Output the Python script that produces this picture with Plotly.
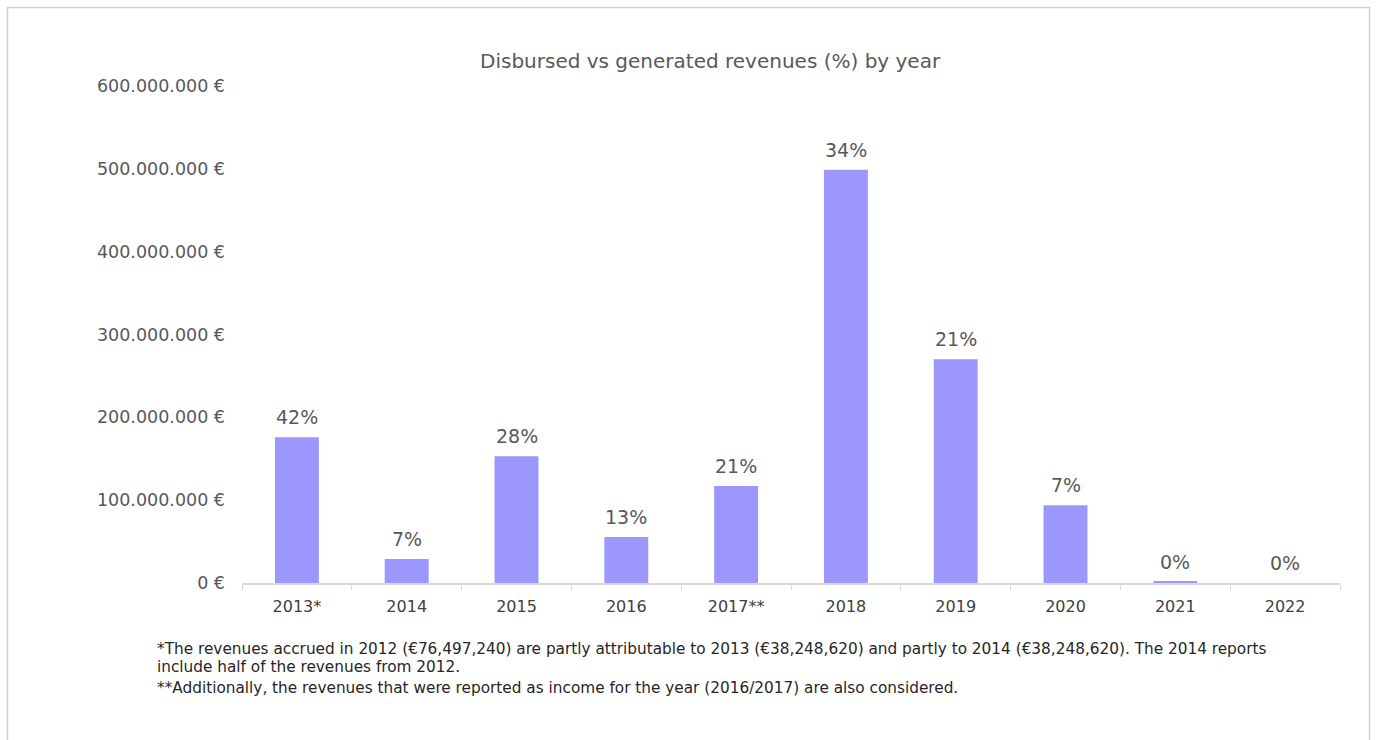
import plotly.graph_objects as go

years = ["2013*", "2014", "2015", "2016", "2017**", "2018", "2019", "2020", "2021", "2022"]
disbursed = [176e6, 29e6, 153e6, 55.5e6, 117e6, 499e6, 270e6, 94e6, 1.5e6, 0]
pct_labels = ["42%", "7%", "28%", "13%", "21%", "34%", "21%", "7%", "0%", "0%"]
ytick_vals = [0, 100e6, 200e6, 300e6, 400e6, 500e6, 600e6]
ytick_text = ["0 €", "100.000.000 €", "200.000.000 €", "300.000.000 €",
              "400.000.000 €", "500.000.000 €", "600.000.000 €"]
title = "Disbursed vs generated revenues (%) by year"
notes = [
    "*The revenues accrued in 2012 (€76,497,240) are partly attributable to 2013 (€38,248,620) and partly to 2014 (€38,248,620). The 2014 reports",
    "include half of the revenues from 2012.",
    "**Additionally, the revenues that were reported as income for the year (2016/2017) are also considered.",
]

W, H = 1376, 740
L, R, T, B = 242, 36, 86, 157
pw, ph = W - L - R, H - T - B
FONT = "DejaVu Sans"

def px(x):
    return (x - L) / pw

def py(y):
    return (H - B - y) / ph

fig = go.Figure(go.Bar(
    x=years, y=disbursed,
    marker=dict(color="#9b97fd", line=dict(width=0)),
    hoverinfo="skip",
))

annotations = [dict(text=title, x=px(710), y=py(61), xref="paper", yref="paper",
                    showarrow=False, font=dict(size=20, color="#595959", family=FONT),
                    xanchor="center", yanchor="middle")]
# category index positions on the category axis
for i, (v, lab) in enumerate(zip(disbursed, pct_labels)):
    annotations.append(dict(text=lab, x=i, y=v, xref="x", yref="y", showarrow=False,
                            yshift=20, yanchor="middle", xanchor="center",
                            font=dict(size=19, color="#595959", family=FONT)))
for t, yy in zip(notes, [649, 667, 688]):
    annotations.append(dict(text=t, x=px(155), y=py(yy), xref="paper", yref="paper",
                            showarrow=False, font=dict(size=15.3, color="#262626", family=FONT),
                            xanchor="left", yanchor="middle", align="left"))

fig.update_layout(
    width=W, height=H, margin=dict(l=L, r=R, t=T, b=B),
    paper_bgcolor="white", plot_bgcolor="white",
    bargap=0.6, showlegend=False,
    font=dict(family=FONT),
    annotations=annotations,
    shapes=[dict(type="rect", xref="paper", yref="paper",
                 x0=px(7.5), x1=px(1369.5), y0=py(745), y1=py(7.5),
                 line=dict(color="#d0d0d0", width=1.5), layer="below")],
    xaxis=dict(type="category", range=[-0.5, len(years) - 0.5],
               showline=True, linecolor="#d9d9d9", linewidth=1.5,
               ticks="outside", tickson="boundaries", ticklen=5, tickcolor="#d9d9d9",
               ticklabelstandoff=8, tickangle=0,
               tickfont=dict(size=16, color="#404040", family=FONT), showgrid=False),
    yaxis=dict(range=[0, 600e6], tickvals=ytick_vals, ticktext=ytick_text,
               showgrid=False, zeroline=False, showline=False, ticks="",
               ticklabelstandoff=16,
               tickfont=dict(size=17.5, color="#595959", family=FONT)),
)

fig.write_html("out.html")
